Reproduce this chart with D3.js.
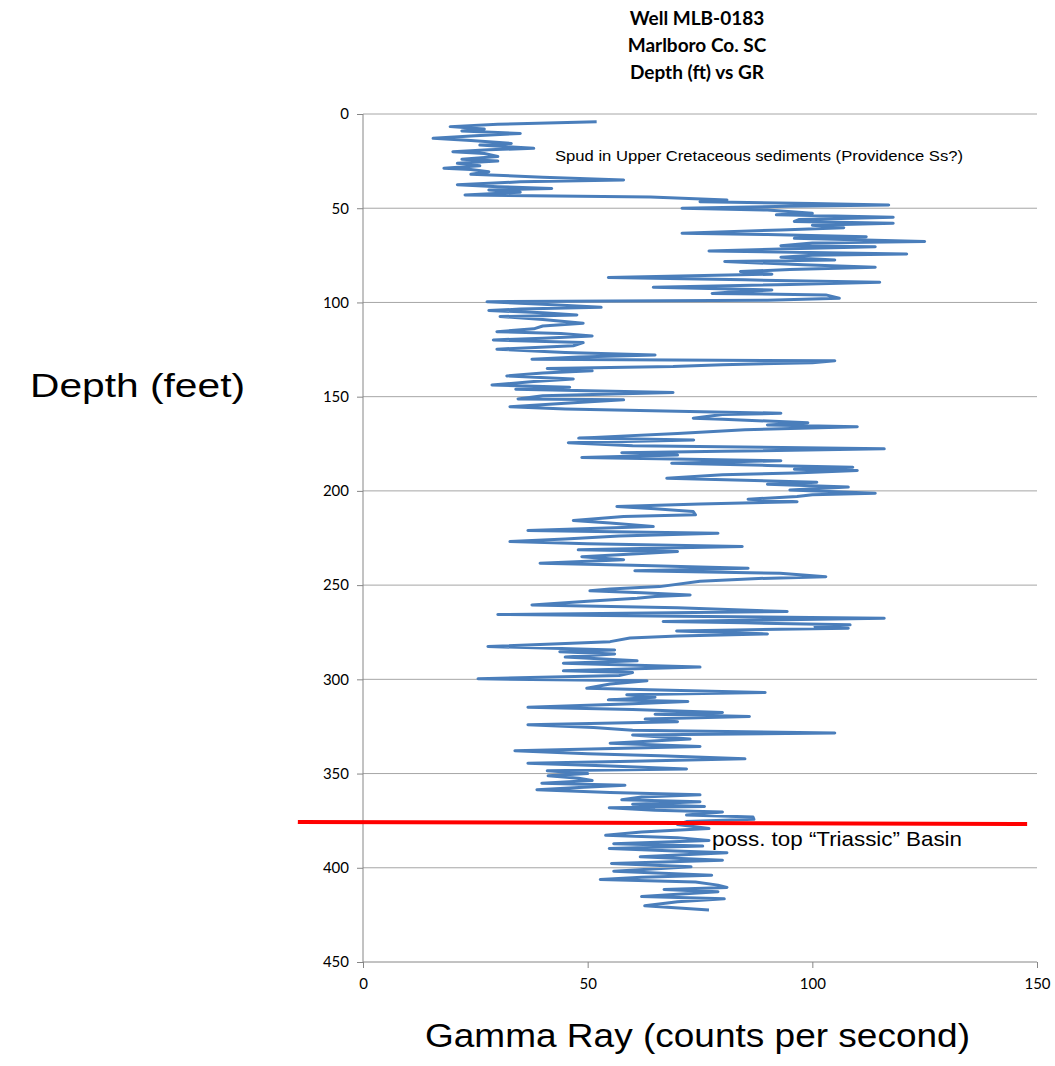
<!DOCTYPE html>
<html lang="en">
<head>
<meta charset="UTF-8">
<title>Well MLB-0183 Depth vs GR</title>
<script src="https://d3js.org/d3.v7.min.js"></script>
<style>
  body { margin: 0; background: #fff; }
  .tick text { font-family: Lato, 'Open Sans', sans-serif; font-size: 15px; fill: #000; }
  .title { font-family: Lato, 'Open Sans', sans-serif; font-weight: bold; font-size: 19px; fill: #000; }
  .axis-title { font-family: 'Liberation Sans', Arial, sans-serif; font-size: 34px; fill: #000; }
  .note { font-family: 'Liberation Sans', Arial, sans-serif; fill: #000; }
</style>
</head>
<body>
<div id="chart"></div>
<script>
  const depth = [4.1, 5.5, 6.7, 8, 9, 10.3, 11.5, 12.9, 14, 15.6, 16.5, 18.2, 19, 20, 21, 22.6, 24, 25, 26.2, 27.5,
    28.8, 29.5, 30.6, 32, 33.5, 35, 36, 37.5, 38.6, 39.5, 40.3, 41.5, 43, 44, 45.6, 46.5, 47.5, 48.3, 49, 50,
    51, 52.7, 53.5, 54.8, 56, 57, 58, 59, 60.3, 61.5, 63.3, 64, 65.1, 66, 67.7, 68.5, 69.9, 70.5, 71.5, 72.7,
    74.3, 75, 76, 77.5, 78.3, 80, 81.3, 82.5, 83.6, 85, 86.8, 88, 89.3, 90.5, 91.9, 93.4, 94.5, 95.2, 96, 97.8,
    98.8, 99.6, 101, 102.6, 103.5, 104.3, 105.5, 106.6, 107.5, 109, 111, 112.5, 114, 115.5, 116.5, 117.8, 119, 119.9, 121.3, 123,
    124.8, 126.5, 127.9, 129, 130.1, 131, 132, 133, 134, 135, 136.3, 137.5, 139, 140.6, 142, 143.8, 145, 146, 147.8, 149.5,
    151.2, 151.7, 153.5, 155.3, 156.5, 158.8, 159.5, 161.4, 162, 163.8, 165, 165.9, 167.5, 169.5, 172, 173, 174.4, 176, 177.7, 179,
    179.7, 181, 182.3, 184, 185.3, 186.5, 187.4, 188.5, 189.2, 190.5, 191.5, 193.3, 195.4, 196.5, 198, 199.5, 201.2, 202, 203, 204.4,
    205.7, 207, 208.3, 209.5, 211, 212.7, 213.6, 215.7, 217, 218.9, 221, 222.5, 224, 225.5, 226.9, 228, 229.5, 231.3, 232.2, 233.5,
    234.9, 236.5, 238.4, 239.5, 241, 242.4, 243.7, 245.5, 246.5, 248, 250.8, 252, 253, 254, 255.2, 256, 257, 258.5, 260.5, 262,
    264, 265.6, 266.5, 267.6, 268.5, 269.3, 270, 271.1, 272, 272.9, 274.3, 275.9, 277, 278.1, 280, 282.6, 284.4, 285.3, 286.5, 288.2,
    290.2, 291.4, 293.5, 295.5, 296.4, 298, 299.7, 300.8, 302.5, 304.7, 307, 308.2, 309.5, 310.9, 311.8, 313, 314.8, 316, 317.6, 318.5,
    319.7, 321.1, 322.5, 324.1, 325.5, 327, 328.5, 329.5, 331.6, 333.9, 335.6, 337.9, 339.5, 340.5, 342.2, 343.5, 344.5, 346, 347.6, 348.5,
    350, 351.2, 352.5, 353.7, 355.1, 356.2, 357.5, 358.6, 360, 361.3, 362.5, 363.9, 365, 366.3, 367.5, 368.1, 369.5, 370.4, 372, 373.1,
    374.3, 375.5, 377, 379.2, 381, 382.8, 384, 385.5, 387.2, 388.5, 389.8, 391, 392, 394.2, 396, 397.7, 399.5, 401.8, 403.9, 405,
    406.2, 407.5, 409.2, 410.4, 411.5, 412.7, 414, 415.3, 416.5, 418, 420.2, 422.4];
  const gr = [52, 30, 19.4, 27, 22, 35, 25, 15.6, 24, 33, 26, 38, 28, 20, 27, 30, 22, 30, 21, 26,
    18, 24, 28, 24, 40, 58, 35, 21, 30, 42, 28, 35, 22.7, 64, 81, 75, 100, 117, 95, 71,
    90, 100, 92, 118, 97, 96, 118, 100, 107, 93, 71, 90, 112, 96, 125, 100, 93, 114, 95, 77,
    121, 100, 93, 105, 80.5, 98, 114, 95, 84, 91, 54.6, 85, 115, 95, 64.6, 91, 82, 77.7, 103, 106,
    90, 27.6, 40, 53, 35, 28, 40, 47.6, 30.5, 40, 49, 40, 38, 29.8, 44, 51, 40, 29, 49, 46.8,
    29.8, 45, 65, 48, 37.6, 105, 100, 80, 69, 41, 51, 40, 32, 46.8, 38, 28.7, 46, 34, 69, 40,
    34.5, 58, 45, 32.7, 45, 93, 80, 73.5, 80, 99, 90, 110, 85, 70, 48, 73.6, 45.7, 60, 116, 80,
    57.6, 70, 48.7, 93, 68.7, 90, 109, 96, 110, 96, 80, 67.6, 101, 90, 108, 95, 114, 100, 96.6, 85.7,
    96.6, 75, 56.5, 65, 73.5, 74, 58, 46.8, 55, 64.6, 36.7, 79, 57, 45, 32.7, 50, 84.4, 47.9, 70, 60,
    48.7, 58, 39.4, 60, 85.7, 60.5, 92.8, 103, 88, 75, 66, 55, 50.5, 62, 72.8, 65, 61, 50, 37.6, 70,
    94.4, 30, 70, 116, 90, 66.8, 85, 108.4, 100.6, 108, 69.8, 90, 70, 59.4, 55, 27.8, 56, 43.8, 56, 45,
    61, 44.6, 75, 44.6, 60, 57, 25.6, 63.2, 55, 49.8, 89.5, 58.7, 65, 54.6, 72.3, 60, 36.7, 60, 80, 65,
    86, 62.8, 70, 36.7, 51.3, 60, 105, 60, 72.8, 55, 75, 33.8, 50, 66, 85, 60, 36.7, 55, 72, 41,
    50, 41.2, 48, 51, 39.8, 58.3, 47, 38.7, 55, 75, 62, 57.6, 75, 60, 76, 54.8, 65, 80, 72, 86.8,
    87, 72, 70, 77, 62, 54, 70, 77, 55.8, 75.6, 54.8, 68, 81, 61.7, 80, 55.3, 73, 55.8, 77.6, 62,
    52.8, 74, 79, 81, 67, 79, 70, 62, 80.4, 70, 62.7, 77];

  const xTicks = [0, 50, 100, 150];
  const yTicks = [0, 50, 100, 150, 200, 250, 300, 350, 400, 450];
  const titleLines = ["Well MLB-0183", "Marlboro Co. SC", "Depth (ft) vs GR"];
  // red marker line: possible top of Triassic basin
  const basinGr = [-14.5, 147.8];
  const basinDepth = [375.7, 376.8];

  const width = 1055, height = 1066;
  const svg = d3.select("#chart").append("svg")
      .attr("width", width)
      .attr("height", height);

  const x = d3.scaleLinear().domain([0, 150]).range([363, 1037]);
  const y = d3.scaleLinear().domain([0, 450]).range([114, 962]);

  // horizontal gridlines
  svg.append("g")
    .selectAll("line")
    .data(yTicks.slice(0, -1))
    .enter().append("line")
      .attr("x1", x(0)).attr("x2", x(150))
      .attr("y1", d => y(d)).attr("y2", d => y(d))
      .attr("stroke", "#a6a6a6")
      .attr("stroke-width", 1);

  // axes
  const yAxis = svg.append("g")
      .attr("transform", `translate(${x(0)},0)`)
      .call(d3.axisLeft(y).tickValues(yTicks).tickSize(6).tickPadding(8));
  const xAxis = svg.append("g")
      .attr("transform", `translate(0,${y(450)})`)
      .call(d3.axisBottom(x).tickValues(xTicks).tickSize(6).tickPadding(10));
  [yAxis, xAxis].forEach(a => {
    a.select(".domain").attr("stroke", "#868686");
    a.selectAll(".tick line").attr("stroke", "#868686");
  });
  xAxis.select(".domain").attr("d", `M${x(0)},0H${x(150)}`);
  yAxis.select(".domain").attr("d", `M0,${y(0)}V${y(450)}`);

  // gamma ray curve
  const pts = depth.map((d, i) => [gr[i], d]);
  svg.append("path")
    .datum(pts)
    .attr("fill", "none")
    .attr("stroke", "#4a7ebb")
    .attr("stroke-width", 3)
    .attr("stroke-linejoin", "round")
    .attr("d", d3.line().x(d => x(d[0])).y(d => y(d[1])));

  // red basin line
  svg.append("line")
    .attr("x1", x(basinGr[0])).attr("y1", y(basinDepth[0]))
    .attr("x2", x(basinGr[1])).attr("y2", y(basinDepth[1]))
    .attr("stroke", "#ff0000")
    .attr("stroke-width", 4);

  // titles
  svg.append("g").selectAll("text")
    .data(titleLines)
    .enter().append("text")
      .attr("class", "title")
      .attr("x", 697)
      .attr("y", (d, i) => 25 + i * 27)
      .attr("text-anchor", "middle")
      .text(d => d);

  svg.append("text")
    .attr("class", "axis-title")
    .attr("x", 30).attr("y", 397)
    .attr("textLength", 215).attr("lengthAdjust", "spacingAndGlyphs")
    .text("Depth (feet)");

  svg.append("text")
    .attr("class", "axis-title")
    .attr("x", 425).attr("y", 1047)
    .attr("textLength", 545).attr("lengthAdjust", "spacingAndGlyphs")
    .text("Gamma Ray (counts per second)");

  svg.append("text")
    .attr("class", "note")
    .attr("x", 555).attr("y", 161)
    .attr("font-size", 15)
    .attr("textLength", 408).attr("lengthAdjust", "spacingAndGlyphs")
    .text("Spud in Upper Cretaceous sediments (Providence Ss?)");

  svg.append("text")
    .attr("class", "note")
    .attr("x", 712).attr("y", 846)
    .attr("font-size", 21)
    .attr("textLength", 250).attr("lengthAdjust", "spacingAndGlyphs")
    .text("poss. top \u201cTriassic\u201d Basin");
</script>
</body>
</html>
